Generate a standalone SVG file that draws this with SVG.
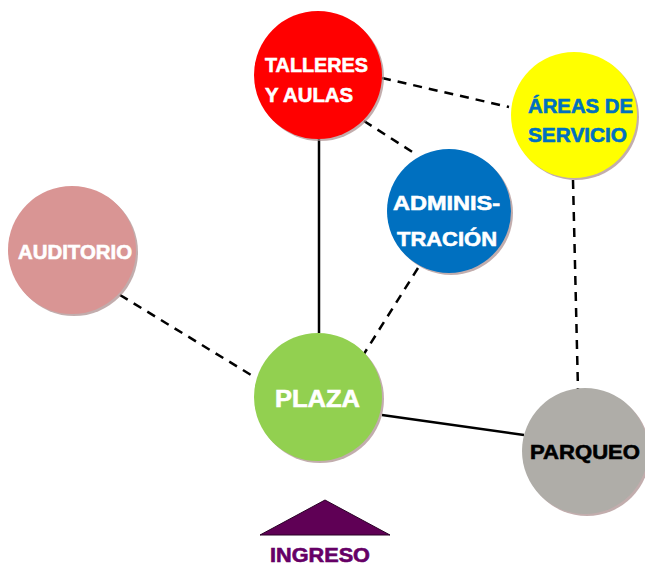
<svg xmlns="http://www.w3.org/2000/svg" width="645" height="569" viewBox="0 0 645 569">
<style>
.sh{fill:#a88a8a;opacity:0.7}
.lbl{font-family:"Liberation Sans",Arial,sans-serif;font-weight:bold;font-size:20px;stroke-width:0.6}
.w{fill:#ffffff;stroke:#ffffff}
.solid{stroke:#000;stroke-width:2.5;fill:none}
.dash{stroke:#000;stroke-width:2.5;fill:none;stroke-dasharray:9 7}
</style>
<rect width="645" height="569" fill="#ffffff"/>
<g id="connectors">
<line class="solid" x1="319" y1="139" x2="319" y2="333"/>
<line class="dash" x1="382" y1="78" x2="509" y2="107"/>
<line class="dash" x1="364" y1="121" x2="414" y2="153"/>
<line class="dash" x1="418" y1="268" x2="362" y2="357"/>
<line class="dash" x1="120" y1="295" x2="256" y2="378"/>
<line class="dash" x1="573" y1="180" x2="578" y2="390"/>
<line class="solid" x1="382" y1="415" x2="524" y2="435"/>
</g>
<g id="talleres">
<circle class="sh" cx="320" cy="77" r="64"/>
<circle cx="318" cy="75" r="64" fill="#ff0000"/>
<text class="lbl w" x="265" y="72" textLength="103" lengthAdjust="spacingAndGlyphs">TALLERES</text>
<text class="lbl w" x="265" y="102" textLength="88" lengthAdjust="spacingAndGlyphs">Y AULAS</text>
</g>
<g id="areas">
<circle class="sh" cx="576" cy="117" r="63"/>
<circle cx="574" cy="115" r="63" fill="#ffff00"/>
<text class="lbl" fill="#0070c0" stroke="#0070c0" x="528" y="113" textLength="105" lengthAdjust="spacingAndGlyphs">ÁREAS DE</text>
<text class="lbl" fill="#0070c0" stroke="#0070c0" x="528" y="142" textLength="99" lengthAdjust="spacingAndGlyphs">SERVICIO</text>
</g>
<g id="auditorio">
<circle class="sh" cx="74" cy="252" r="64"/>
<circle cx="72" cy="250" r="64" fill="#d99594"/>
<text class="lbl w" x="18" y="259" textLength="114" lengthAdjust="spacingAndGlyphs">AUDITORIO</text>
</g>
<g id="administracion">
<circle class="sh" cx="451" cy="213" r="62"/>
<circle cx="449" cy="211" r="62" fill="#0070c0"/>
<text class="lbl w" x="393" y="210" textLength="107" lengthAdjust="spacingAndGlyphs">ADMINIS-</text>
<text class="lbl w" x="397" y="246" textLength="100" lengthAdjust="spacingAndGlyphs">TRACIÓN</text>
</g>
<g id="plaza">
<circle class="sh" cx="320" cy="399" r="64"/>
<circle cx="318" cy="397" r="64" fill="#92d050"/>
<text class="lbl w" style="font-size:23px" x="275" y="407" textLength="85" lengthAdjust="spacingAndGlyphs">PLAZA</text>
</g>
<g id="parqueo">
<circle class="sh" cx="587" cy="453" r="63"/>
<circle cx="585" cy="451" r="63" fill="#afada8"/>
<text class="lbl" fill="#000" stroke="#000" x="530" y="459" textLength="110" lengthAdjust="spacingAndGlyphs">PARQUEO</text>
</g>
<g id="ingreso">
<polygon points="325,500 260,535 390,535" fill="#5f0055" stroke="#2a0026" stroke-width="1"/>
<text class="lbl" fill="#660066" stroke="#660066" x="270" y="562" textLength="100" lengthAdjust="spacingAndGlyphs">INGRESO</text>
</g>
</svg>
